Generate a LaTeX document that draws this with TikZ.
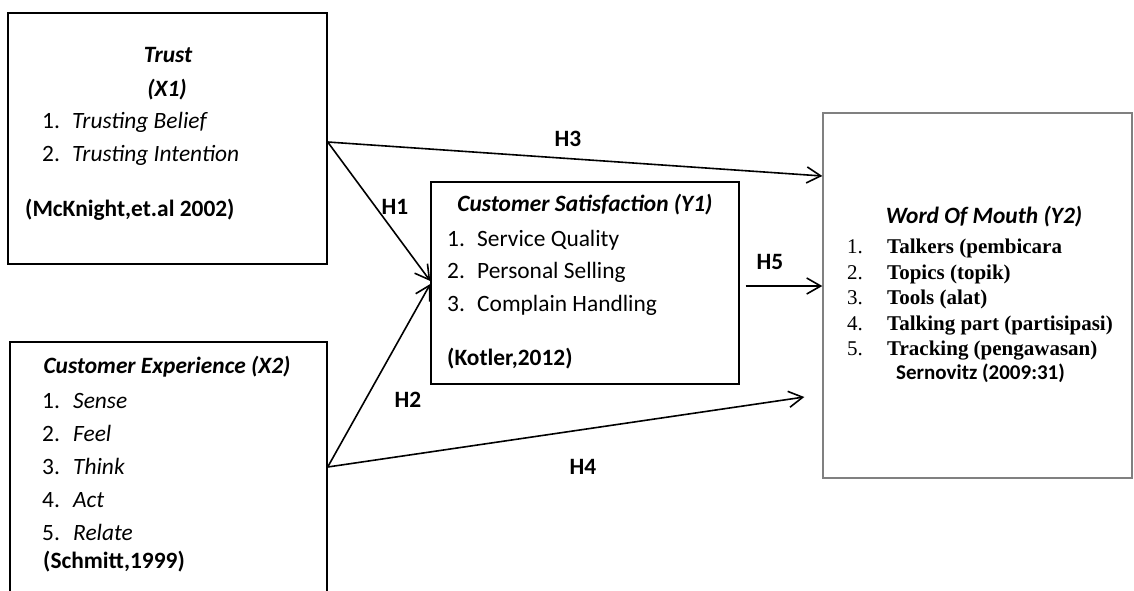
\documentclass[tikz,border=0pt]{standalone}
\usepackage{fontspec}
\setmainfont{Carlito}
\newfontfamily\tnrfont{Liberation Serif}
\usetikzlibrary{arrows.meta,calc}
\newcommand\fsz{\fontsize{23.4}{27}\selectfont}
\newcommand\fsw{\fontsize{21}{25}\selectfont}
\begin{document}
\begin{tikzpicture}[x=1pt,y=-1pt,
  box/.style={draw,line width=1.4pt,inner sep=0pt},
  tr/.style={inner sep=0pt,font=\fsz,anchor=base west},
  tb/.style={inner sep=0pt,font=\fsz\bfseries,anchor=base west},
  ti/.style={inner sep=0pt,font=\fsz\itshape,anchor=base west},
  tbi/.style={inner sep=0pt,font=\fsz\bfseries\itshape,anchor=base},
  wn/.style={inner sep=0pt,font=\fsw\tnrfont,anchor=base west},
  wb/.style={inner sep=0pt,font=\fsw\tnrfont\bfseries,anchor=base west},
  ws/.style={inner sep=0pt,font=\fsw\bfseries,anchor=base west},
  arr/.style={line width=1.6pt,-{Straight Barb[length=14pt,width=16pt]}},
  lbl/.style={inner sep=0pt,font=\fsz\bfseries}
]
\useasboundingbox (0,0) rectangle (1134,590);

% Trust box
\node[box,minimum width=319pt,minimum height=251pt] (trust) at (167.5,138.5) {};
\node[tbi] (trustA) at (168,62) {Trust};
\node[tbi] (trustB) at (167,96) {(X1)};
\node[tr] (trustN1) at (42,128) {1.};
\node[ti] (trustI1) at (72,128) {Trusting Belief};
\node[tr] (trustN2) at (42,161) {2.};
\node[ti] (trustI2) at (72,161) {Trusting Intention};
\node[tb] (trustR) at (25,216) {(McKnight,et.al 2002)};

% Customer Experience box (runs past the bottom edge)
\node[box,minimum width=317pt,minimum height=253pt] (ce) at (168.5,468.5) {};
\node[tbi] (ceA) at (167,373) {Customer Experience (X2)};
\node[tr] (ceN1) at (42,408) {1.};
\node[ti] (ceI1) at (73,408) {Sense};
\node[tr] (ceN2) at (42,441) {2.};
\node[ti] (ceI2) at (73,441) {Feel};
\node[tr] (ceN3) at (42,474) {3.};
\node[ti] (ceI3) at (73,474) {Think};
\node[tr] (ceN4) at (42,507) {4.};
\node[ti] (ceI4) at (73,507) {Act};
\node[tr] (ceN5) at (42,540) {5.};
\node[ti] (ceI5) at (73,540) {Relate};
\node[tb] (ceR) at (43,568) {(Schmitt,1999)};

% Customer Satisfaction box
\node[box,minimum width=308pt,minimum height=202pt] (sat) at (585,283) {};
\node[tbi] (satA) at (585,211) {Customer Satisfaction (Y1)};
\node[tr] (satN1) at (447,246) {1.};
\node[tr] (satI1) at (477,246) {Service Quality};
\node[tr] (satN2) at (447,278) {2.};
\node[tr] (satI2) at (477,278) {Personal Selling};
\node[tr] (satN3) at (447,311) {3.};
\node[tr] (satI3) at (477,311) {Complain Handling};
\node[tb] (satR) at (447,365) {(Kotler,2012)};

% Word of Mouth box
\node[box,draw=black!50,minimum width=309pt,minimum height=365pt] (wom) at (977.5,295.5) {};
\node[tbi] (womA) at (984,223) {Word Of Mouth (Y2)};
\node[wn] (womN1) at (847,253) {1.};
\node[wb] (womI1) at (887,253) {Talkers (pembicara};
\node[wn] (womN2) at (847,279) {2.};
\node[wb] (womI2) at (887,279) {Topics (topik)};
\node[wn] (womN3) at (847,304) {3.};
\node[wb] (womI3) at (887,304) {Tools (alat)};
\node[wn] (womN4) at (847,330) {4.};
\node[wb] (womI4) at (887,330) {Talking part (partisipasi)};
\node[wn] (womN5) at (847,355) {5.};
\node[wb] (womI5) at (887,355) {Tracking (pengawasan)};
\node[ws] (womR) at (896,379) {Sernovitz (2009:31)};

% connector end points
\coordinate (h1end) at ($(sat.west)+(0,-2)$);
\coordinate (h2end) at ($(sat.west)+(0,1)$);
\coordinate (h3end) at ($(wom.west)+(0,-119.5)$);
\coordinate (h4end) at ($(wom.west)+(-18,101.5)$);
\coordinate (h5start) at ($(sat.east)+(6,3)$);
\coordinate (trustout) at ($(trust.east)+(0,3.5)$);
\coordinate (ceout) at ($(ce.east)+(0,-1.5)$);

\draw[arr] (trustout) -- (h3end);
\draw[arr] (trustout) -- (h1end);
\draw[arr] (ceout) -- (h2end);
\draw[arr] (ceout) -- (h4end);
\draw[arr] (h5start) -- (h5start -| wom.west);

\node[lbl] (H1) at (395,207) {H1};
\node[lbl] (H2) at (408,400) {H2};
\node[lbl] (H3) at (568,139) {H3};
\node[lbl] (H4) at (583,467) {H4};
\node[lbl] (H5) at (770,262) {H5};
\end{tikzpicture}
\end{document}
